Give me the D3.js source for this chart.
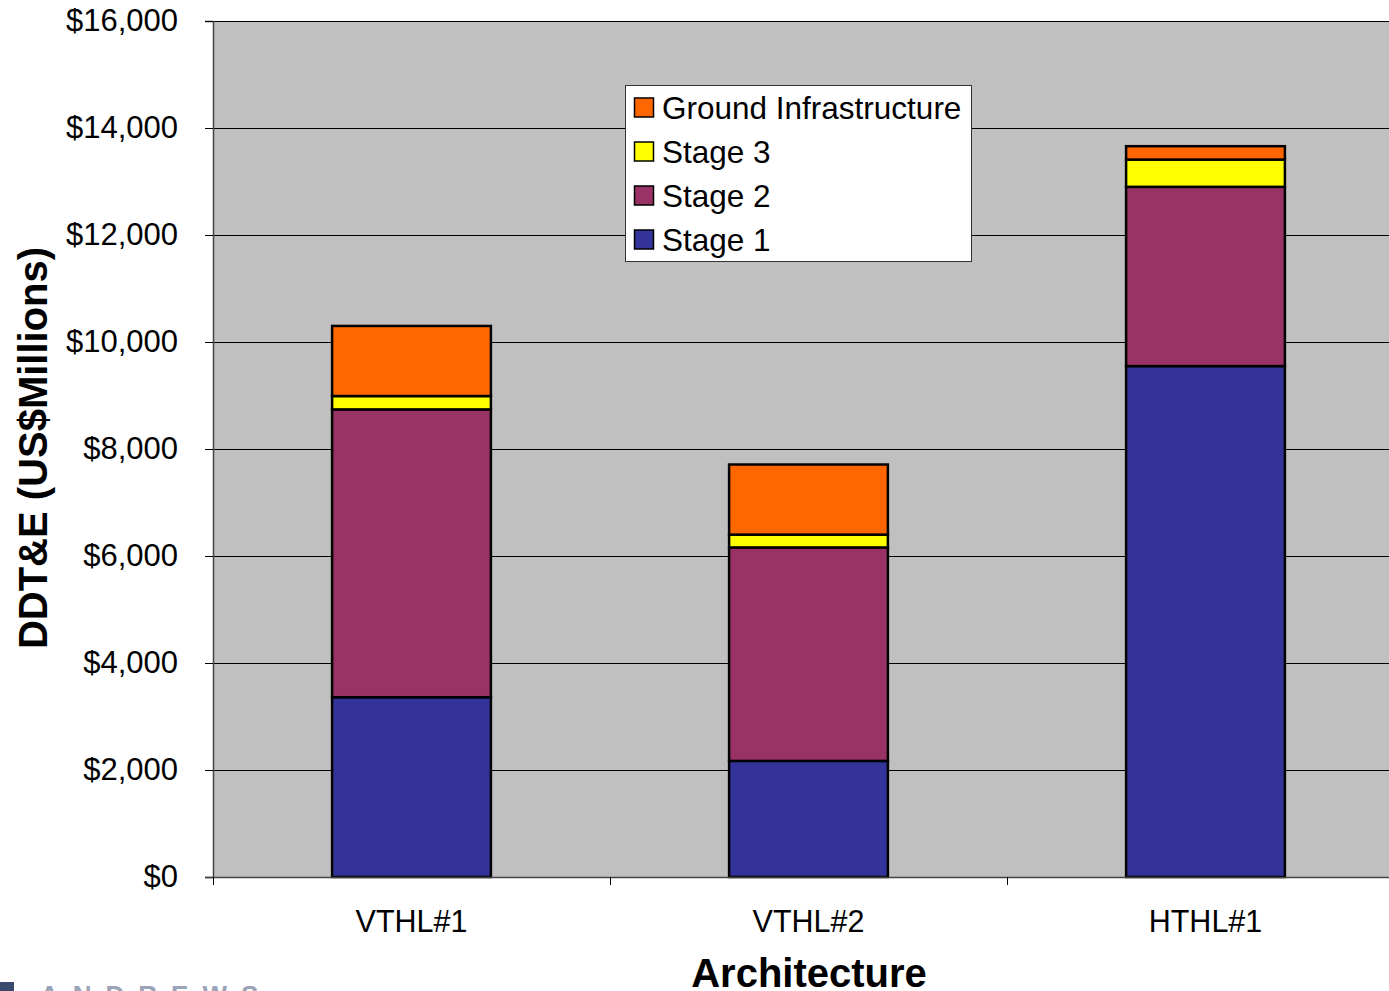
<!DOCTYPE html>
<html>
<head>
<meta charset="utf-8">
<script src="https://cdn.jsdelivr.net/npm/d3@7"></script>
<style>
  html, body { margin: 0; padding: 0; background: #fff; }
  svg { display: block; font-family: "Liberation Sans", Arial, sans-serif; }
</style>
</head>
<body>
<svg id="chart" width="1389" height="991"></svg>
<script>
// Architectures on the x axis
const categories = ["VTHL#1", "VTHL#2", "HTHL#1"];
// DDT&E cost per element, US$ millions
const stage1 = [3360, 2170, 9550];
const stage2 = [5380, 3990, 3350];
const stage3 = [250, 240, 510];
const groundInfrastructure = [1310, 1310, 250];
const seriesNames = ["Stage 1", "Stage 2", "Stage 3", "Ground Infrastructure"];
const seriesColors = ["#333399", "#993366", "#FFFF00", "#FF6600"];
const yTicks = [0, 2000, 4000, 6000, 8000, 10000, 12000, 14000, 16000];

const rows = categories.map((c, i) => ({
  cat: c,
  "Stage 1": stage1[i],
  "Stage 2": stage2[i],
  "Stage 3": stage3[i],
  "Ground Infrastructure": groundInfrastructure[i]
}));
const stacked = d3.stack().keys(seriesNames)(rows);

const svg = d3.select("#chart");
const plot = { left: 213, top: 21, right: 1404, bottom: 877 };

const x = d3.scaleBand().domain(categories)
  .range([plot.left, plot.right]).paddingInner(0.6).paddingOuter(0.3);
const xEdges = d3.scaleLinear().domain([0, categories.length]).range([plot.left, plot.right]);
const y = d3.scaleLinear().domain([0, 16000]).range([plot.bottom, plot.top]);

// plot background
svg.append("rect")
  .attr("x", plot.left).attr("y", plot.top)
  .attr("width", plot.right - plot.left).attr("height", plot.bottom - plot.top)
  .attr("fill", "#C0C0C0");

// horizontal gridlines
svg.append("g").selectAll("line").data(yTicks.filter(d => d > 0)).join("line")
  .attr("x1", plot.left).attr("x2", plot.right)
  .attr("y1", d => Math.round(y(d)) + 0.5).attr("y2", d => Math.round(y(d)) + 0.5)
  .attr("stroke", "#000").attr("stroke-width", 1);

// stacked bars
svg.append("g").selectAll("g").data(stacked).join("g")
  .attr("fill", (d, i) => seriesColors[i])
  .selectAll("rect").data(d => d).join("rect")
  .attr("x", d => x(d.data.cat))
  .attr("width", x.bandwidth())
  .attr("y", d => y(d[1]))
  .attr("height", d => y(d[0]) - y(d[1]))
  .attr("stroke", "#000").attr("stroke-width", 2.5);

// y axis
const yAxis = svg.append("g")
  .attr("transform", `translate(${plot.left},0)`)
  .call(d3.axisLeft(y).tickValues(yTicks).tickSize(8).tickPadding(27)
    .tickFormat(d => "$" + d3.format(",")(d)));
yAxis.select(".domain").attr("stroke", "#444").attr("stroke-width", 1.5);
yAxis.selectAll(".tick line").attr("stroke", "#000");
yAxis.selectAll("text").attr("font-size", 31).attr("fill", "#000")
  .attr("font-family", "'Liberation Sans', Arial, sans-serif");

// x axis: ticks sit at the category boundaries
const xAxisG = svg.append("g").attr("transform", `translate(0,${plot.bottom})`);
xAxisG.append("line").attr("x1", plot.left - 8).attr("x2", plot.right)
  .attr("y1", 0.5).attr("y2", 0.5).attr("stroke", "#444").attr("stroke-width", 1.5);
xAxisG.selectAll(".xt").data(d3.range(categories.length + 1)).join("line")
  .attr("class", "xt")
  .attr("x1", d => xEdges(d) + 0.5).attr("x2", d => xEdges(d) + 0.5)
  .attr("y1", 0).attr("y2", 8).attr("stroke", "#000");
xAxisG.selectAll(".xl").data(categories).join("text")
  .attr("class", "xl")
  .attr("x", d => x(d) + x.bandwidth() / 2)
  .attr("y", 55)
  .attr("text-anchor", "middle").attr("font-size", 30.5).attr("fill", "#000")
  .text(d => d);

// axis titles
svg.append("text")
  .attr("x", 809).attr("y", 987)
  .attr("text-anchor", "middle").attr("font-size", 40).attr("font-weight", "bold")
  .text("Architecture");
svg.append("text")
  .attr("transform", "translate(47,448) rotate(-90)")
  .attr("text-anchor", "middle").attr("font-size", 40).attr("font-weight", "bold")
  .text("DDT&E (US$Millions)");

// legend
const legendOrder = ["Ground Infrastructure", "Stage 3", "Stage 2", "Stage 1"];
const lg = svg.append("g");
lg.append("rect").attr("x", 625.5).attr("y", 85.5).attr("width", 346).attr("height", 176)
  .attr("fill", "#fff").attr("stroke", "#333").attr("stroke-width", 1);
const items = lg.selectAll(".li").data(legendOrder).join("g")
  .attr("class", "li")
  .attr("transform", (d, i) => `translate(0,${108 + i * 44})`);
items.append("rect")
  .attr("x", 634.5).attr("y", -10).attr("width", 19).attr("height", 19)
  .attr("fill", d => seriesColors[seriesNames.indexOf(d)])
  .attr("stroke", "#000").attr("stroke-width", 1.5);
items.append("text")
  .attr("x", 662).attr("y", 11).attr("font-size", 31.5).attr("fill", "#000")
  .text(d => d);

// footer logo fragment at the lower-left edge
svg.append("rect").attr("x", 0).attr("y", 982).attr("width", 14).attr("height", 12).attr("fill", "#3a4a6e");
svg.append("text").attr("x", 40).attr("y", 1004).attr("font-size", 26)
  .attr("letter-spacing", 14).attr("fill", "#9aa3b8").attr("font-weight", "bold")
  .text("ANDREWS");
</script>
</body>
</html>
